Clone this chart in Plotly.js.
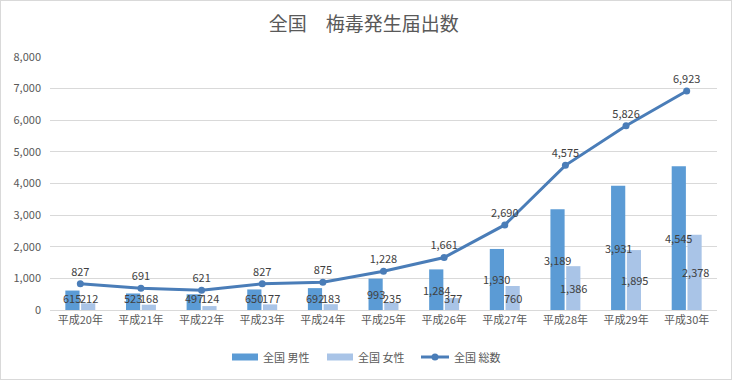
<!DOCTYPE html>
<html>
<head>
<meta charset="utf-8">
<script src="https://cdn.plot.ly/plotly-3.0.1.min.js"></script>
<style>
html,body{margin:0;padding:0;background:#fff;}
#chart{width:730px;height:378px;border:1px solid #d9d9d9;}
</style>
</head>
<body>
<div id="chart"></div>
<script>
var categories = ["平成20年","平成21年","平成22年","平成23年","平成24年","平成25年","平成26年","平成27年","平成28年","平成29年","平成30年"];
var male = [615,523,497,650,692,993,1284,1930,3189,3931,4545];
var female = [212,168,124,177,183,235,377,760,1386,1895,2378];
var total = [827,691,621,827,875,1228,1661,2690,4575,5826,6923];
var seriesNames = ["全国 男性","全国 女性","全国 総数"];

var fmt = function(v){ return v.toLocaleString('en-US'); };
var FONT = '"Noto Sans CJK JP", "Noto Sans", sans-serif';
var C_MALE = '#5B9BD5', C_FEMALE = '#A9C4E7', C_TOTAL = '#4A7DB8';

var traces = [
  {type:'bar', name:seriesNames[0], x:categories, y:male, marker:{color:C_MALE}},
  {type:'bar', name:seriesNames[1], x:categories, y:female, marker:{color:C_FEMALE}},
  {type:'scatter', mode:'lines+markers+text', name:seriesNames[2], x:categories, y:total,
   line:{color:C_TOTAL, width:3}, marker:{color:C_TOTAL, size:7},
   text:total.map(fmt), textposition:'top center',
   textfont:{color:'#404040', size:11, family:FONT}, cliponaxis:false}
];

// plot area in pixels: x 50..717, y 57..310
var PL = 50, PW = 667, PB = 310, PH = 253, YMAX = 8000;
function px(x){ return (x-PL)/PW; }
function py(y){ return (PB-y)/PH; }

// bar value labels, centred in each bar (kept above the axis like Excel does)
var minMid = 12 / PH * YMAX;
var annotations = [];
function barLabels(vals, shift){
  vals.forEach(function(v,i){
    annotations.push({x:categories[i], y:Math.max(v/2, minMid), xref:'x', yref:'y',
      xshift:shift, text:fmt(v), showarrow:false, xanchor:'center', yanchor:'middle',
      font:{size:11, color:'#404040', family:FONT}});
  });
}
barLabels(male, -8);
barLabels(female, 8.5);

// manual legend
var LY = 357;
var shapes = [
  {type:'rect', xref:'paper', yref:'paper', x0:px(232), x1:px(258), y0:py(LY+3.5), y1:py(LY-3.5), fillcolor:C_MALE, line:{width:0}},
  {type:'rect', xref:'paper', yref:'paper', x0:px(327), x1:px(353), y0:py(LY+3.5), y1:py(LY-3.5), fillcolor:C_FEMALE, line:{width:0}},
  {type:'line', xref:'paper', yref:'paper', x0:px(421), x1:px(449), y0:py(LY), y1:py(LY), line:{color:C_TOTAL, width:3}},
  {type:'circle', xref:'paper', yref:'paper', x0:px(431.5), x1:px(438.5), y0:py(LY+3.5), y1:py(LY-3.5), fillcolor:C_TOTAL, line:{width:0}}
];
var legX = [261, 356, 452];
seriesNames.forEach(function(n,i){
  annotations.push({xref:'paper', yref:'paper', x:px(legX[i]), y:py(LY), xanchor:'left', yanchor:'middle',
          text:n, showarrow:false, font:{size:11, color:'#595959', family:FONT}});
});

var layout = {
  width:730, height:378,
  margin:{l:49, r:14, t:56, b:69},
  paper_bgcolor:'#fff', plot_bgcolor:'#fff',
  font:{family:FONT, color:'#595959', size:11},
  title:{text:'全国　梅毒発生届出数', x:0.497, xanchor:'center', y:0.937, yanchor:'middle',
         font:{size:19, color:'#595959', family:FONT}},
  barmode:'group', bargap:0.48, bargroupgap:0.1,
  xaxis:{type:'category', range:[-0.5,10.5], autorange:false, showgrid:false, showline:true, linecolor:'#d9d9d9', linewidth:1,
         ticks:'', tickfont:{size:11, color:'#595959'}, fixedrange:true},
  yaxis:{range:[0,YMAX], autorange:false, dtick:1000, tickformat:',', showgrid:true, gridcolor:'#d9d9d9',
         zeroline:false, showline:false, ticks:'', ticklabelstandoff:8,
         tickfont:{size:11, color:'#595959'}, fixedrange:true},
  shapes:shapes, annotations:annotations,
  showlegend:false
};

Plotly.newPlot('chart', traces, layout, {displayModeBar:false, staticPlot:true});
</script>
</body>
</html>
